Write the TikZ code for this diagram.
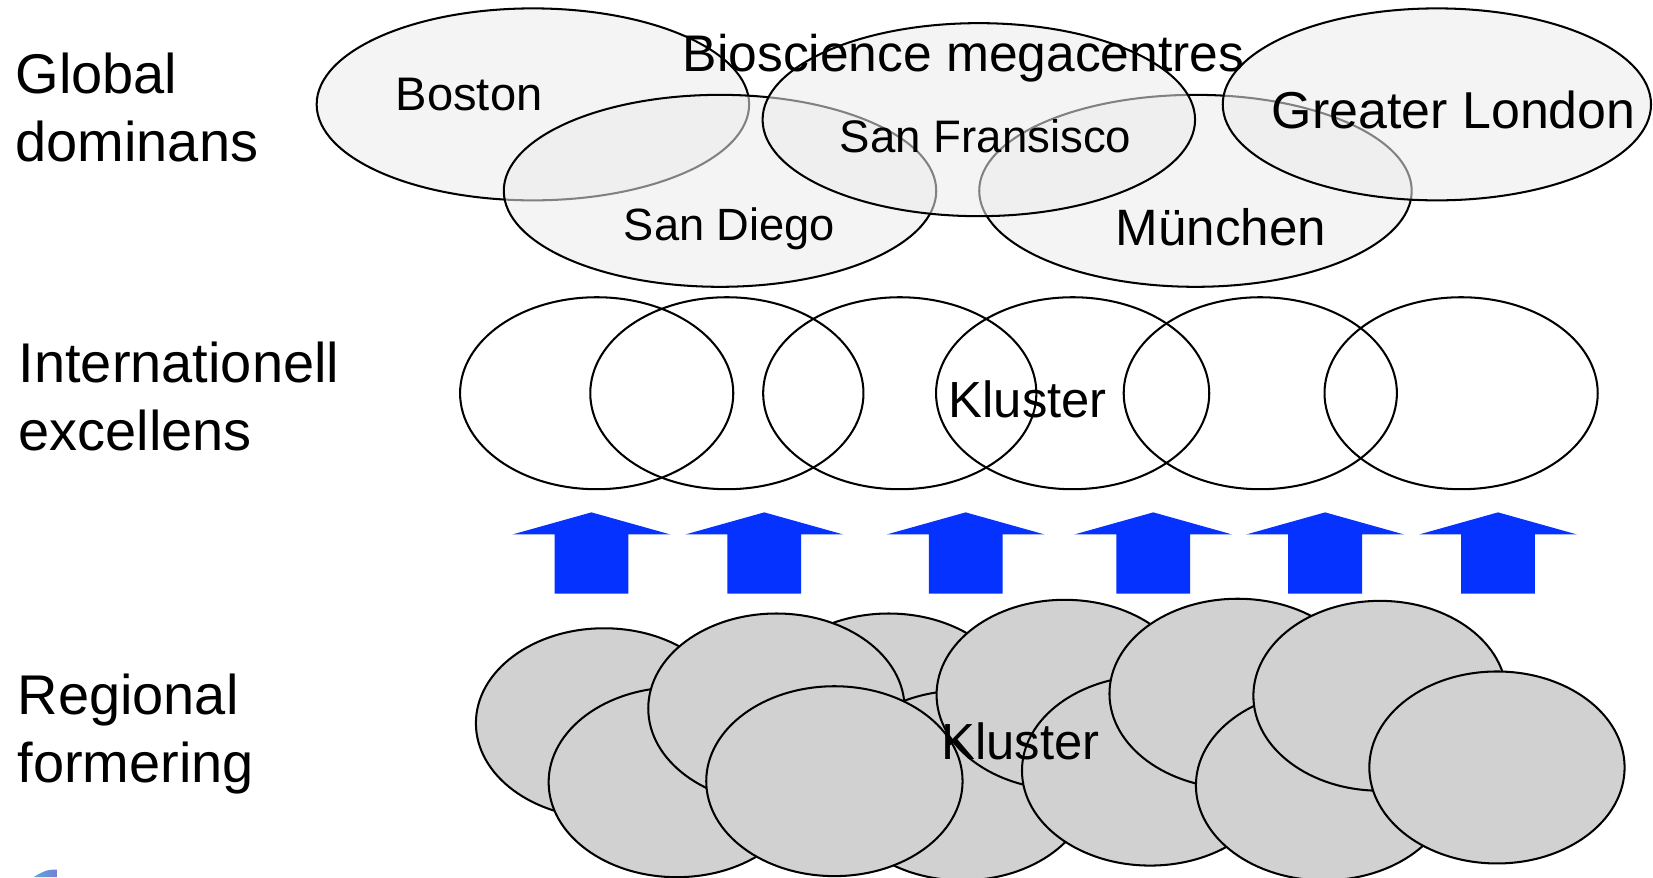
\documentclass[tikz,border=0pt]{standalone}
\usepackage{fontspec}
\setmainfont{Liberation Sans}
\usetikzlibrary{shapes.geometric}

\definecolor{cityfill}{gray}{0.92}
\definecolor{clusterfill}{RGB}{209,209,209}
\definecolor{arrowblue}{RGB}{5,50,255}
\definecolor{logoleft}{RGB}{95,165,225}
\definecolor{logoright}{RGB}{115,128,210}

\tikzset{
  levellabel/.style={anchor=base west, inner sep=0pt, align=left,
    font=\fontsize{15.1}{18.2}\selectfont},
  citylabel/.style={anchor=base, inner sep=0pt},
  city/.style={ellipse, draw=black, line width=0.55pt, fill=cityfill,
    fill opacity=0.55, inner sep=0pt, outer sep=0pt,
    minimum width=4.1cm, minimum height=1.82cm},
  excellence/.style={ellipse, draw=black, line width=0.55pt, inner sep=0pt,
    outer sep=0pt, minimum width=2.59cm, minimum height=1.82cm},
  regional/.style={ellipse, draw=black, line width=0.55pt, fill=clusterfill,
    inner sep=0pt, outer sep=0pt, minimum width=2.43cm, minimum height=1.8cm},
  upblock/.pic={
    \fill[arrowblue] (0,0) -- (75,21) -- (35,21) -- (35,77) -- (-35,77)
      -- (-35,21) -- (-75,21) -- cycle;
  }
}

\begin{document}
\begin{tikzpicture}[x=0.01cm, y=-0.01cm]
\useasboundingbox (0,0) rectangle (1568,832);

% level names on the left (anchored at the baseline of the second line)
\node[levellabel] (lvl-global) at (14,153) {Global\\dominans};
\node[levellabel] (lvl-intl) at (17,427) {Internationell\\excellens};
\node[levellabel] (lvl-regional) at (16,742) {Regional\\formering};

% global megacentres (translucent, back to front)
\node[city] (boston) at (505.5,99) {};
\node[city] (sandiego) at (683,181) {};
\node[city] (munchen) at (1134,181) {};
\node[city, minimum height=1.83cm] (sanfran) at (928.5,113.5) {};
\node[city, minimum width=4.06cm] (london) at (1363,99) {};

\node[citylabel, font=\fontsize{13.9}{16}\selectfont] (bio) at (914,68) {Bioscience megacentres};
\node[citylabel, font=\fontsize{12.7}{15}\selectfont] (boston-t) at (445,105) {Boston};
\node[citylabel, font=\fontsize{12.3}{15}\selectfont] (sanfran-t) at (935,145) {San Fransisco};
\node[citylabel, font=\fontsize{14}{16}\selectfont] (london-t) at (1379,122) {Greater London};
\node[citylabel, font=\fontsize{12.2}{15}\selectfont] (sandiego-t) at (692,228) {San Diego};
\node[citylabel, font=\fontsize{13.8}{16}\selectfont] (munchen-t) at (1158,233) {München};

% internationally excellent clusters
\node[excellence] (ex1) at (566,373) {};
\node[excellence] (ex2) at (689.5,373) {};
\node[excellence] (ex3) at (853.5,373) {};
\node[excellence] (ex4) at (1017.5,373) {};
\node[excellence] (ex5) at (1195.5,373) {};
\node[excellence] (ex6) at (1386,373) {};
\node[citylabel, font=\fontsize{13.7}{16}\selectfont] (ex-t) at (975,396) {Kluster};

% upward growth arrows
\pic at (561,486) {upblock};
\pic at (725,486) {upblock};
\pic at (916,486) {upblock};
\pic at (1094,486) {upblock};
\pic at (1257,486) {upblock};
\pic at (1421,486) {upblock};

% regional clusters, back to front
\node[regional] (rg-d) at (843,672) {};
\node[regional] (rg-g) at (913,745) {};
\node[regional] (rg-a) at (573,686) {};
\node[regional] (rg-b) at (642,742) {};
\node[regional] (rg-c) at (736.5,672) {};
\node[regional] (rg-f) at (791.5,741) {};
\node[regional] (rg-e) at (1010,659) {};
\node[regional] (rg-h) at (1091,731) {};
\node[regional] (rg-i) at (1174,658) {};
\node[regional] (rg-k) at (1256,745) {};
\node[regional, minimum width=2.4cm] (rg-j) at (1309,660) {};
\node[regional, minimum width=2.42cm, minimum height=1.82cm] (rg-l) at (1420,728) {};
\node[citylabel, font=\fontsize{13.7}{16}\selectfont] (rg-t) at (968,720) {Kluster};

% corner of a logo
\shade[left color=logoleft, right color=logoright]
  (32,832) .. controls (38,828) and (44,825) .. (49,825) -- (54,825) -- (54,832) -- cycle;
\end{tikzpicture}
\end{document}
